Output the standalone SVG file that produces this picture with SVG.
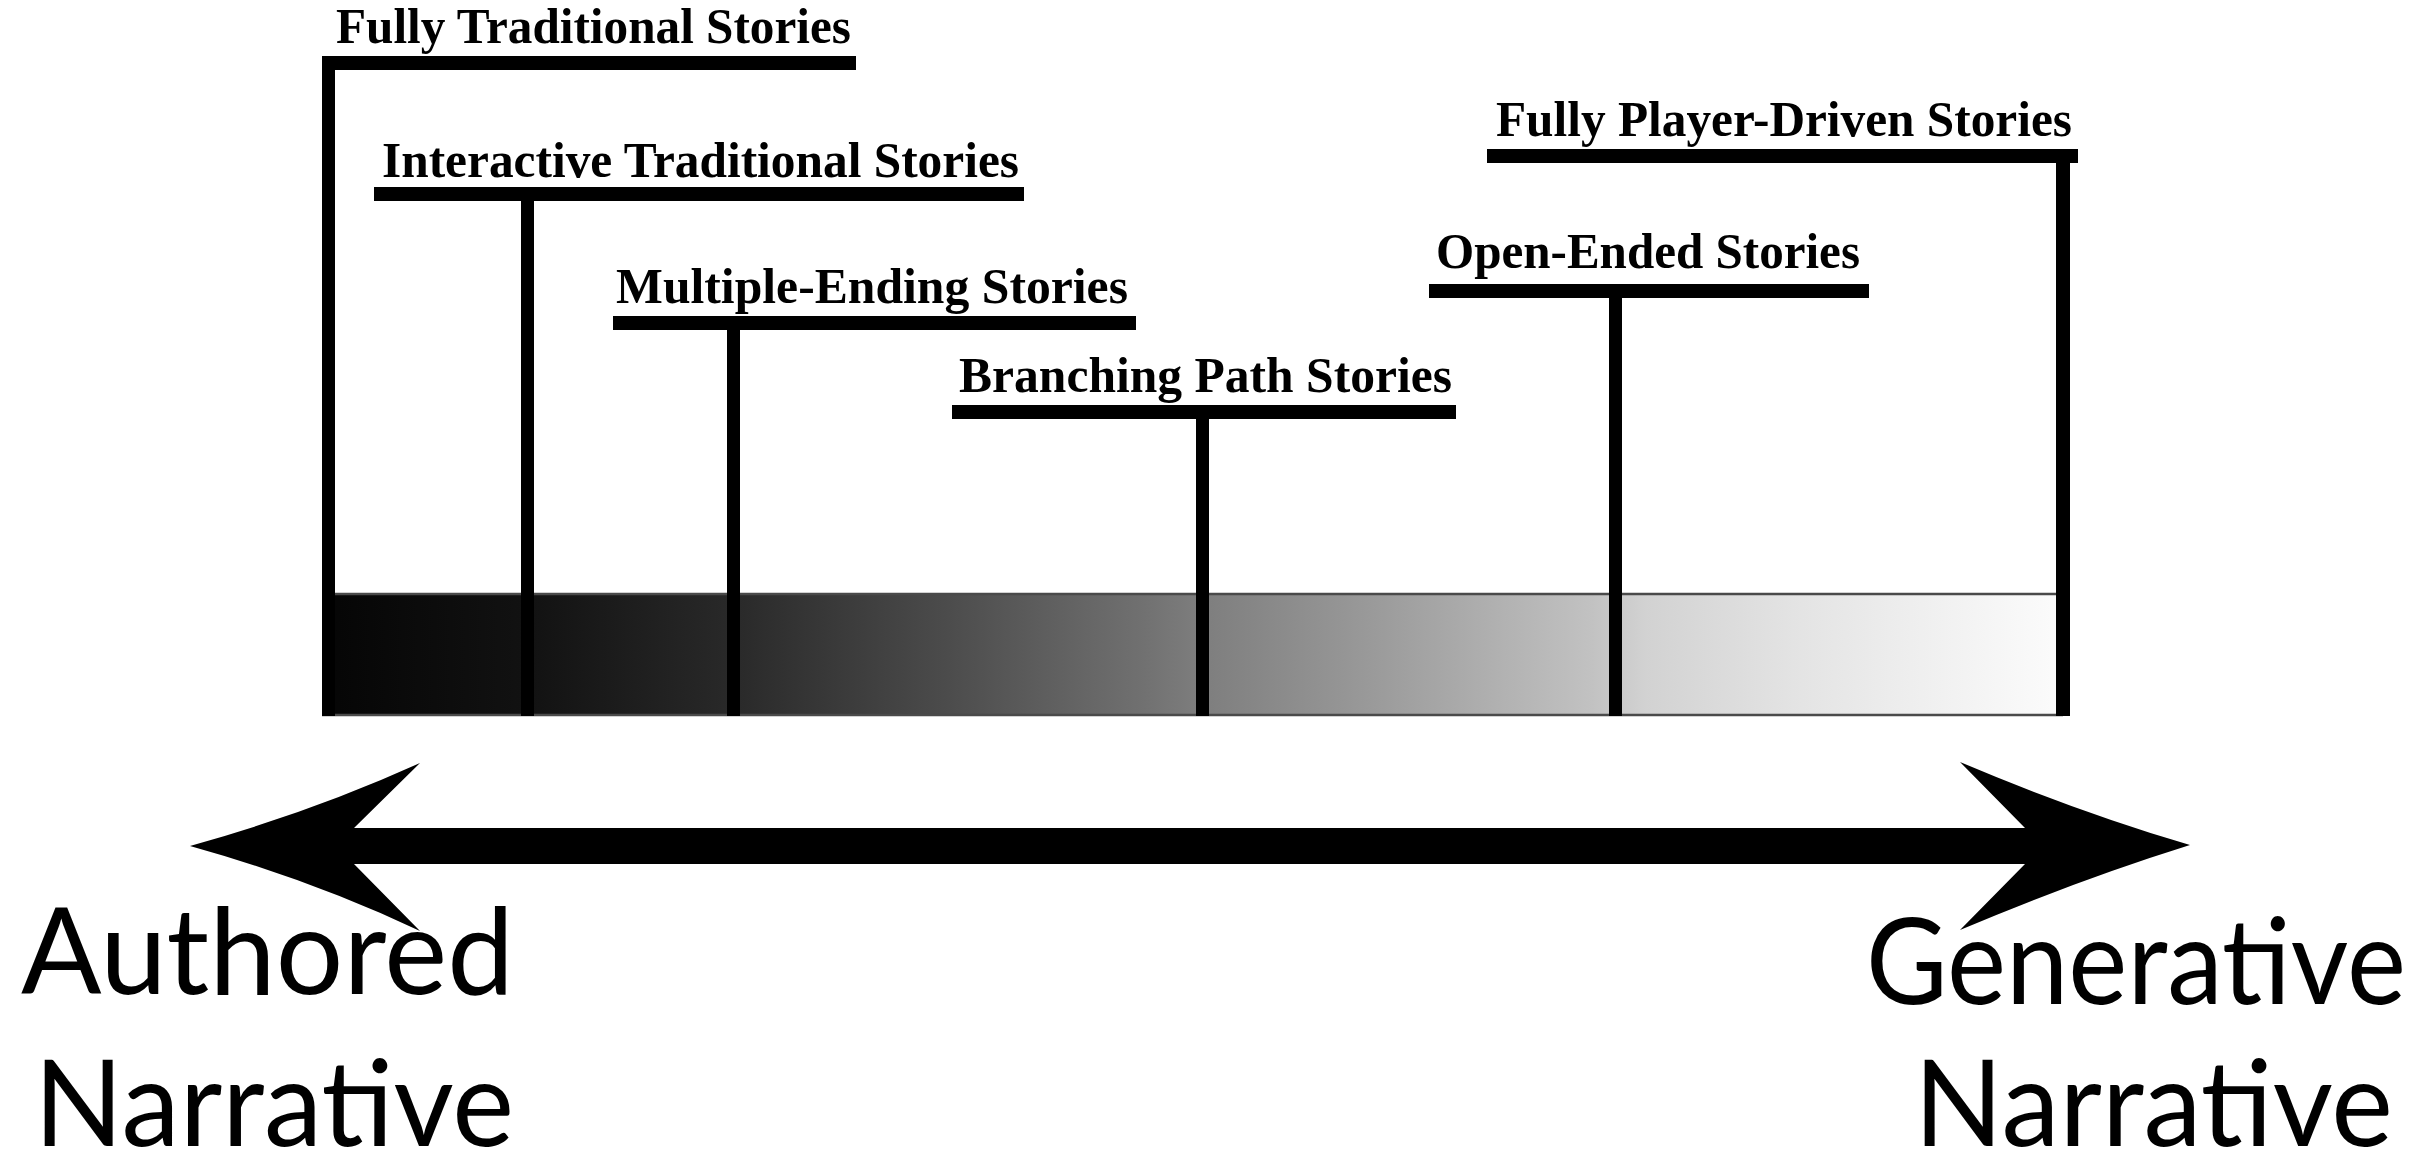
<svg xmlns="http://www.w3.org/2000/svg" width="2433" height="1168" viewBox="0 0 2433 1168">
  <defs>
    <linearGradient id="spectrumGrad" gradientUnits="userSpaceOnUse" x1="322" y1="0" x2="2063" y2="0">
      <stop offset="0" stop-color="#050505"/>
      <stop offset="0.12" stop-color="#121212"/>
      <stop offset="0.24" stop-color="#2a2a2a"/>
      <stop offset="0.36" stop-color="#4c4c4c"/>
      <stop offset="0.47" stop-color="#707070"/>
      <stop offset="0.5" stop-color="#7c7c7c"/>
      <stop offset="0.6" stop-color="#999999"/>
      <stop offset="0.73" stop-color="#c2c2c2"/>
      <stop offset="0.76" stop-color="#d2d2d2"/>
      <stop offset="0.85" stop-color="#e4e4e4"/>
      <stop offset="1" stop-color="#fcfcfc"/>
    </linearGradient>
  </defs>
  <style>
    .bar { fill: #000; }
    .label { font-family: "Liberation Serif", "Times New Roman", serif; font-weight: bold; font-size: 50px; fill: #000; }
    .endlabel { font-family: Lato, "Open Sans", "Liberation Sans", sans-serif; font-size: 121px; fill: #000; }
    .border { stroke: #4a4a4a; stroke-width: 2.5; fill: none; }
  </style>
  <rect width="2433" height="1168" fill="#ffffff"/>

  <g id="spectrum">
    <rect x="322" y="593" width="1741" height="122" fill="url(#spectrumGrad)"/>
    <line class="border" x1="322" y1="594" x2="2063" y2="594"/>
    <line class="border" x1="322" y1="715" x2="2063" y2="715"/>
  </g>

  <g id="fully-traditional">
    <rect class="bar" x="322" y="56" width="534" height="14"/>
    <rect class="bar" x="322" y="56" width="13" height="660"/>
    <text class="label" x="336" y="43" textLength="515" lengthAdjust="spacingAndGlyphs">Fully Traditional Stories</text>
  </g>

  <g id="interactive-traditional">
    <rect class="bar" x="374" y="187" width="650" height="14"/>
    <rect class="bar" x="521" y="187" width="13" height="529"/>
    <text class="label" x="382" y="177" textLength="637" lengthAdjust="spacingAndGlyphs">Interactive Traditional Stories</text>
  </g>

  <g id="multiple-ending">
    <rect class="bar" x="613" y="316" width="523" height="14"/>
    <rect class="bar" x="727" y="316" width="13" height="400"/>
    <text class="label" x="616" y="303" textLength="512" lengthAdjust="spacingAndGlyphs">Multiple-Ending Stories</text>
  </g>

  <g id="branching-path">
    <rect class="bar" x="952" y="405" width="504" height="14"/>
    <rect class="bar" x="1196" y="405" width="13" height="311"/>
    <text class="label" x="959" y="392" textLength="493" lengthAdjust="spacingAndGlyphs">Branching Path Stories</text>
  </g>

  <g id="open-ended">
    <rect class="bar" x="1429" y="284" width="440" height="14"/>
    <rect class="bar" x="1609" y="284" width="13" height="432"/>
    <text class="label" x="1436" y="268" textLength="424" lengthAdjust="spacingAndGlyphs">Open-Ended Stories</text>
  </g>

  <g id="fully-player-driven">
    <rect class="bar" x="1487" y="149" width="591" height="14"/>
    <rect class="bar" x="2056" y="149" width="14" height="567"/>
    <text class="label" x="1496" y="136" textLength="576" lengthAdjust="spacingAndGlyphs">Fully Player-Driven Stories</text>
  </g>

  <g id="connectors">
    <path id="axis-arrow" fill="#000" d="M190,846 Q312,812 420,763 L354,828 L2025,828 L1960,762 Q2078,812 2190,845 Q2078,880 1960,930 L2025,864 L354,864 L420,931 Q312,880 190,846 Z"/>
  </g>

  <g id="authored">
    <text class="endlabel" x="21" y="994" textLength="493" lengthAdjust="spacingAndGlyphs">Authored</text>
    <text class="endlabel" x="34" y="1146" textLength="480" lengthAdjust="spacingAndGlyphs">Narrative</text>
  </g>

  <g id="generative">
    <text class="endlabel" x="1866" y="1004" font-size="112" textLength="540" lengthAdjust="spacingAndGlyphs">Generative</text>
    <text class="endlabel" x="1914" y="1146" textLength="479" lengthAdjust="spacingAndGlyphs">Narrative</text>
  </g>
</svg>
